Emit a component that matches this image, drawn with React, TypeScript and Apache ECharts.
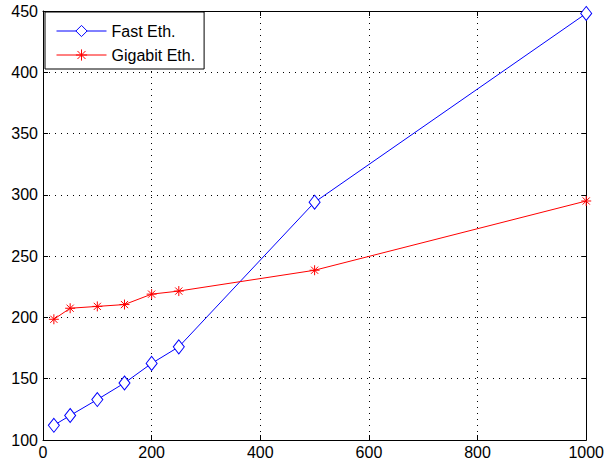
import React, { useEffect, useRef } from "react";
import * as echarts from "echarts";

const xValues = [20, 50, 100, 150, 200, 250, 500, 1000];
const fastEth = [112, 120, 133, 146.5, 162.5, 176, 294, 448];
const gigabitEth = [198.5, 207.5, 209, 210.5, 219, 221.5, 238.5, 295];
const seriesNames = ["Fast Eth.", "Gigabit Eth."];

const asterisk = "path://M0,-5L0,5M-5,0L5,0M-3.6,-3.6L3.6,3.6M-3.6,3.6L3.6,-3.6";

export default function App() {
  const ref = useRef<HTMLDivElement>(null);
  useEffect(() => {
    if (!ref.current) return;
    const chart = echarts.init(ref.current, null, { renderer: "svg" });
    const font = "Liberation Sans, Arial, Helvetica, sans-serif";
    const axisLine = { show: true, onZero: false, lineStyle: { color: "#000", width: 1 } };
    const tick = { show: true, inside: true, length: 5, lineStyle: { color: "#000" } };
    const split = { show: true, lineStyle: { color: "#000", type: [1, 5], width: 1 } };
    const plain = (v: number) => String(v);
    chart.setOption({
      animation: false,
      backgroundColor: "#fff",
      textStyle: { fontFamily: font },
      grid: { left: 43, right: 18, top: 11, bottom: 25, containLabel: false },
      legend: {
        left: 45,
        top: 12,
        orient: "vertical",
        backgroundColor: "#fff",
        borderColor: "#000",
        borderWidth: 1,
        borderRadius: 0,
        padding: [11, 9, 6, 11],
        itemWidth: 50,
        itemHeight: 14,
        itemGap: 8,
        lineStyle: { width: 1 },
        itemStyle: { borderWidth: 1 },
        textStyle: { fontSize: 16, color: "#000", fontFamily: font },
        data: seriesNames,
      },
      xAxis: [
        {
          type: "value",
          min: 0,
          max: 1000,
          interval: 200,
          axisLine,
          axisTick: tick,
          splitLine: split,
          axisLabel: { color: "#000", fontSize: 16, margin: 4, fontFamily: font, formatter: plain },
        },
        {
          type: "value",
          position: "top",
          min: 0,
          max: 1000,
          interval: 200,
          axisLine,
          axisTick: tick,
          splitLine: { show: false },
          axisLabel: { show: false },
        },
      ],
      yAxis: [
        {
          type: "value",
          min: 100,
          max: 450,
          interval: 50,
          axisLine,
          axisTick: tick,
          splitLine: split,
          axisLabel: { color: "#000", fontSize: 16, margin: 5, fontFamily: font, formatter: plain },
        },
        {
          type: "value",
          position: "right",
          min: 100,
          max: 450,
          interval: 50,
          axisLine,
          axisTick: tick,
          splitLine: { show: false },
          axisLabel: { show: false },
        },
      ],
      series: [
        {
          name: seriesNames[0],
          type: "line",
          data: xValues.map((x, i) => [x, fastEth[i]]),
          symbol: "diamond",
          symbolSize: [11, 14],
          clip: false,
          lineStyle: { color: "#0000ff", width: 1 },
          itemStyle: { color: "#fff", borderColor: "#0000ff", borderWidth: 1 },
        },
        {
          name: seriesNames[1],
          type: "line",
          data: xValues.map((x, i) => [x, gigabitEth[i]]),
          symbol: asterisk,
          symbolSize: 10,
          clip: false,
          lineStyle: { color: "#ff0000", width: 1 },
          itemStyle: { color: "#ff0000", borderColor: "#ff0000", borderWidth: 1 },
        },
      ],
    });
    return () => chart.dispose();
  }, []);
  return <div ref={ref} style={{ width: 607, height: 465, position: "absolute", left: 0, top: 0 }} />;
}
